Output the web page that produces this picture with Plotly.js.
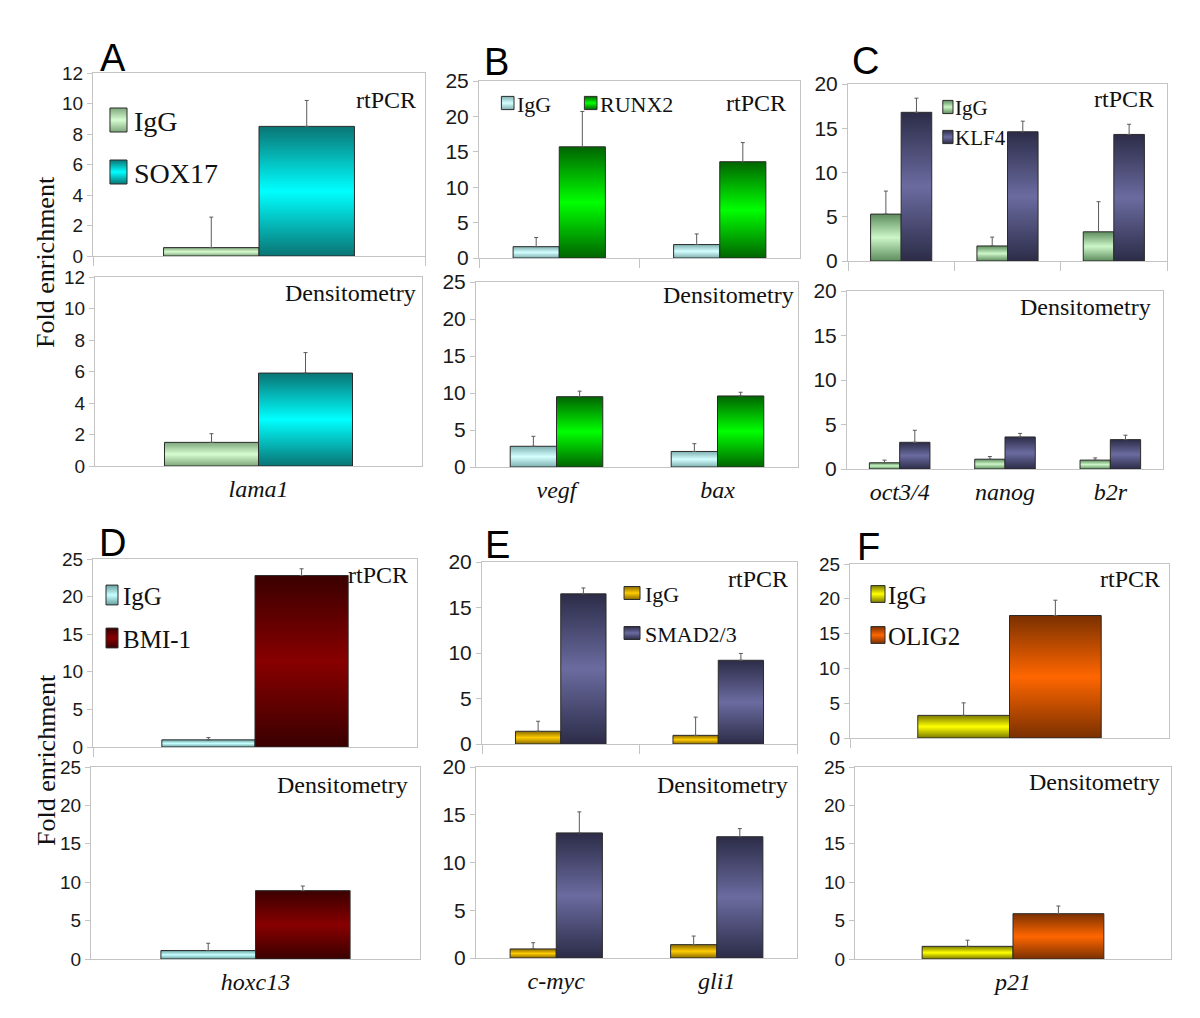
<!DOCTYPE html>
<html><head><meta charset="utf-8">
<script src="https://cdn.plot.ly/plotly-3.0.1.min.js"></script>
<style>html,body{margin:0;padding:0;background:#fff;}#chart{width:1200px;height:1018px;}</style>
</head><body><div id="chart"></div>
<script>
// ---------------- DATA ----------------
const catsA = ['lama1'];
const rtA_IgG = [0.55],  rtA_IgG_err = [2.0];
const rtA_SOX17 = [8.5], rtA_SOX17_err = [1.7];
const denA_IgG = [1.5],  denA_IgG_err = [0.55];
const denA_SOX17 = [5.9], denA_SOX17_err = [1.3];

const catsB = ['vegf', 'bax'];
const rtB_IgG = [1.6, 1.9],    rtB_IgG_err = [1.3, 1.5];
const rtB_RUNX2 = [15.7, 13.6], rtB_RUNX2_err = [5.0, 2.7];
const denB_IgG = [2.8, 2.1],   denB_IgG_err = [1.35, 1.05];
const denB_RUNX2 = [9.5, 9.6], denB_RUNX2_err = [0.75, 0.5];

const catsC = ['oct3/4', 'nanog', 'b2r'];
const rtC_IgG = [5.3, 1.7, 3.3],    rtC_IgG_err = [2.6, 1.0, 3.4];
const rtC_KLF4 = [16.8, 14.6, 14.3], rtC_KLF4_err = [1.6, 1.2, 1.15];
const denC_IgG = [0.7, 1.1, 1.0],   denC_IgG_err = [0.3, 0.3, 0.25];
const denC_KLF4 = [3.0, 3.6, 3.3],  denC_KLF4_err = [1.35, 0.4, 0.5];

const catsD = ['hoxc13'];
const rtD_IgG = [0.95],  rtD_IgG_err = [0.3];
const rtD_BMI1 = [22.8], rtD_BMI1_err = [0.9];
const denD_IgG = [1.1],  denD_IgG_err = [0.95];
const denD_BMI1 = [8.9], denD_BMI1_err = [0.6];

const catsE = ['c-myc', 'gli1'];
const rtE_IgG = [1.4, 0.95],    rtE_IgG_err = [1.1, 2.0];
const rtE_SMAD = [16.5, 9.2],   rtE_SMAD_err = [0.65, 0.75];
const denE_IgG = [0.95, 1.4],   denE_IgG_err = [0.65, 0.9];
const denE_SMAD = [13.1, 12.7], denE_SMAD_err = [2.2, 0.85];

const catsF = ['p21'];
const rtF_IgG = [3.25],   rtF_IgG_err = [1.8];
const rtF_OLIG2 = [17.6], rtF_OLIG2_err = [2.2];
const denF_IgG = [1.65],  denF_IgG_err = [0.8];
const denF_OLIG2 = [5.9], denF_OLIG2_err = [1.0];

// ---------------- LAYOUT HELPERS ----------------
const W = 1200, H = 1018;
const X = p => p / W;
const Y = p => 1 - p / H;
const NARROW = {family: 'Liberation Sans Narrow, Arial Narrow, Liberation Sans, Arial', size: 19, color: '#1a1a1a'};
const WIDE = {family: 'Liberation Sans, Arial', size: 21, color: '#1a1a1a'};
const SERIF = 'Liberation Serif, Times New Roman, serif';

// legend entries: [text left x, text center y] per series
const panels = [
  {letter: 'A', cats: catsA, names: ['IgG', 'SOX17'],
   rt: [[rtA_IgG, rtA_IgG_err], [rtA_SOX17, rtA_SOX17_err]],
   den: [[denA_IgG, denA_IgG_err], [denA_SOX17, denA_SOX17_err]],
   range: [0, 12], dtick: 2, tickfont: NARROW,
   top: [93, 425, 73, 256], bot: [95, 422, 277, 466],
   colors: [['#7fa67c', '#d6fcd0'], ['#0a7474', '#00ffff']],
   leg: {fs: 28, pos: [[134, 120], [134, 172]], scale: [1.42, 2.0], sgap: 7},
   letterPos: [98, 58], rtPos: [418, 100], denPos: [418, 293]},
  {letter: 'B', cats: catsB, names: ['IgG', 'RUNX2'],
   rt: [[rtB_IgG, rtB_IgG_err], [rtB_RUNX2, rtB_RUNX2_err]],
   den: [[denB_IgG, denB_IgG_err], [denB_RUNX2, denB_RUNX2_err]],
   range: [0, 25], dtick: 5, tickfont: WIDE,
   top: [479, 800, 81, 258], bot: [476, 798, 282, 467],
   colors: [['#7fb0b0', '#d4ffff'], ['#006400', '#00ff00']],
   leg: {fs: 22, pos: [[517, 103], [600, 103]], scale: [1.05, 1.1], sgap: 3},
   letterPos: [482, 62], rtPos: [788, 103], denPos: [796, 295]},
  {letter: 'C', cats: catsC, names: ['IgG', 'KLF4'],
   rt: [[rtC_IgG, rtC_IgG_err], [rtC_KLF4, rtC_KLF4_err]],
   den: [[denC_IgG, denC_IgG_err], [denC_KLF4, denC_KLF4_err]],
   range: [0, 20], dtick: 5, tickfont: WIDE,
   top: [848, 1167, 84, 261], bot: [847, 1163, 291, 469],
   colors: [['#5d8c5d', '#ccf6c8'], ['#2c2c48', '#6b6ba0']],
   leg: {fs: 21, pos: [[955, 107], [955, 137]], scale: [0.85, 1.1], sgap: 2},
   letterPos: [850, 61], rtPos: [1156, 99], denPos: [1153, 307]},
  {letter: 'D', cats: catsD, names: ['IgG', 'BMI-1'],
   rt: [[rtD_IgG, rtD_IgG_err], [rtD_BMI1, rtD_BMI1_err]],
   den: [[denD_IgG, denD_IgG_err], [denD_BMI1, denD_BMI1_err]],
   range: [0, 25], dtick: 5, tickfont: NARROW,
   top: [93, 417, 559, 747], bot: [91, 420, 767, 959],
   colors: [['#6aa0a0', '#c6ffff'], ['#3a0000', '#880000']],
   leg: {fs: 25, pos: [[123, 595], [123, 638]], scale: [1.0, 1.65], sgap: 5},
   letterPos: [97, 543], rtPos: [410, 575], denPos: [410, 785]},
  {letter: 'E', cats: catsE, names: ['IgG', 'SMAD2/3'],
   rt: [[rtE_IgG, rtE_IgG_err], [rtE_SMAD, rtE_SMAD_err]],
   den: [[denE_IgG, denE_IgG_err], [denE_SMAD, denE_SMAD_err]],
   range: [0, 20], dtick: 5, tickfont: WIDE,
   top: [482, 797, 562, 744], bot: [476, 797, 767, 958],
   colors: [['#8a6a00', '#ffcc00'], ['#2c2c48', '#6b6ba0']],
   leg: {fs: 22, pos: [[645, 593], [645, 633]], scale: [1.33, 1.08], sgap: 5},
   letterPos: [483, 545], rtPos: [790, 579], denPos: [790, 785]},
  {letter: 'F', cats: catsF, names: ['IgG', 'OLIG2'],
   rt: [[rtF_IgG, rtF_IgG_err], [rtF_OLIG2, rtF_OLIG2_err]],
   den: [[denF_IgG, denF_IgG_err], [denF_OLIG2, denF_OLIG2_err]],
   range: [0, 25], dtick: 5, tickfont: NARROW,
   top: [850, 1169, 564, 738], bot: [855, 1171, 767, 959],
   colors: [['#7a7a00', '#ffff00'], ['#7a3000', '#ff6600']],
   leg: {fs: 25, pos: [[888, 594], [888, 635]], scale: [1.17, 1.4], sgap: 3},
   letterPos: [855, 547], rtPos: [1162, 579], denPos: [1162, 782]}
];

const traces = [];
const gradInfo = [];
const legendTrace = {};   // legend id -> {idx, scale, gap}
const layout = {
  width: W, height: H,
  margin: {l: 0, r: 0, t: 0, b: 0},
  paper_bgcolor: '#ffffff', plot_bgcolor: '#ffffff',
  barmode: 'group', bargap: 0.425, bargroupgap: 0,
  showlegend: true,
  font: {family: 'Liberation Sans, Arial', color: '#111'},
  annotations: []
};
const suf = n => (n === 1 ? '' : String(n));
const FRAME = '#c4c4c4';
let legCount = 0;

panels.forEach((p, pi) => {
  [['rt', 2 * pi + 1, p.top], ['den', 2 * pi + 2, p.bot]].forEach(([key, idx, box]) => {
    const s = suf(idx);
    const isTop = key === 'rt';
    p[key].forEach((ser, si) => {
      const vals = ser[0], errs = ser[1];
      const tr = {
        type: 'bar', x: p.cats, y: vals, name: p.names[si],
        xaxis: 'x' + s, yaxis: 'y' + s,
        marker: {color: p.colors[si][1], line: {color: '#2b2b2b', width: 1}},
        error_y: {type: 'data', symmetric: false, array: errs, arrayminus: vals.map(() => 0),
                  color: '#5a5a5a', thickness: 1, width: 2},
        showlegend: isTop,
        hoverinfo: 'skip'
      };
      if (isTop) {
        legCount += 1;
        const lk = legCount === 1 ? 'legend' : 'legend' + legCount;
        tr.legend = lk;
        const L = p.leg, hgt = 1.3 * L.fs + 3;
        layout[lk] = {
          xanchor: 'left', yanchor: 'top',
          x: X(L.pos[si][0] - 40), y: Y(L.pos[si][1] - 5 - hgt / 2),
          orientation: 'v',
          font: {family: SERIF, size: L.fs, color: '#111'},
          bgcolor: 'rgba(0,0,0,0)', borderwidth: 0, itemwidth: 30
        };
        legendTrace[lk] = {idx: traces.length, scale: L.scale, gap: L.sgap};
      } else {
        tr.legend = 'legend';
      }
      traces.push(tr);
      gradInfo.push(p.colors[si]);
    });
    layout['xaxis' + s] = {
      domain: [X(box[0]), X(box[1])], anchor: 'y' + s, type: 'category',
      showline: true, mirror: true, linecolor: FRAME, linewidth: 1,
      showgrid: false, zeroline: false, fixedrange: true,
      showticklabels: !isTop,
      ticks: isTop ? 'outside' : '', tickson: 'boundaries', ticklen: 9, tickcolor: FRAME,
      tickfont: {family: SERIF, size: 24, style: 'italic', color: '#111'},
      ticklabelstandoff: 1
    };
    layout['yaxis' + s] = {
      domain: [Y(box[3]), Y(box[2])], anchor: 'x' + s,
      range: p.range, dtick: p.dtick, tick0: 0,
      showline: true, mirror: true, linecolor: FRAME, linewidth: 1,
      showgrid: false, zeroline: false, fixedrange: true,
      ticks: 'outside', ticklen: 5, tickcolor: FRAME,
      tickfont: p.tickfont
    };
  });

  layout.annotations.push(
    {xref: 'paper', yref: 'paper', x: X(p.letterPos[0]), y: Y(p.letterPos[1]), xanchor: 'left', yanchor: 'middle',
     text: p.letter, showarrow: false, font: {family: 'Liberation Sans, Arial', size: 38, color: '#000'}},
    {xref: 'paper', yref: 'paper', x: X(p.rtPos[0]), y: Y(p.rtPos[1]), xanchor: 'right', yanchor: 'middle',
     text: 'rtPCR', showarrow: false, font: {family: SERIF, size: 24, color: '#111'}},
    {xref: 'paper', yref: 'paper', x: X(p.denPos[0]), y: Y(p.denPos[1]), xanchor: 'right', yanchor: 'middle',
     text: 'Densitometry', showarrow: false, font: {family: SERIF, size: 24, color: '#111'}}
  );
});
[262, 760].forEach(cy => layout.annotations.push({
  xref: 'paper', yref: 'paper', x: X(46), y: Y(cy), xanchor: 'center', yanchor: 'middle',
  text: 'Fold enrichment', textangle: -90, showarrow: false,
  font: {family: SERIF, size: 26, color: '#111'}
}));

const NS = 'http://www.w3.org/2000/svg';
function ensureGradients(gd) {
  const svg = gd.querySelector('.main-svg');
  if (!svg) return;
  let defs = svg.querySelector('defs');
  if (!defs) { defs = document.createElementNS(NS, 'defs'); svg.insertBefore(defs, svg.firstChild); }
  gradInfo.forEach((c, i) => {
    if (document.getElementById('bargrad' + i)) return;
    const g = document.createElementNS(NS, 'linearGradient');
    g.setAttribute('id', 'bargrad' + i);
    g.setAttribute('x1', '0'); g.setAttribute('y1', '0'); g.setAttribute('x2', '0'); g.setAttribute('y2', '1');
    [[0, c[0]], [0.5, c[1]], [1, c[0]]].forEach(([o, col]) => {
      const st = document.createElementNS(NS, 'stop');
      st.setAttribute('offset', o); st.setAttribute('stop-color', col);
      g.appendChild(st);
    });
    defs.appendChild(g);
  });
}
function styleAll(gd) {
  ensureGradients(gd);
  gd.querySelectorAll('g.trace.bars').forEach(el => {
    const cd = el.__data__;
    if (!cd || !cd[0] || !cd[0].trace) return;
    const idx = cd[0].trace.index;
    el.querySelectorAll('g.point path').forEach(pth => { pth.style.fill = 'url(#bargrad' + idx + ')'; });
  });
  gd.querySelectorAll('.infolayer g').forEach(g => {
    const cls = Array.from(g.classList).find(c => legendTrace[c] !== undefined);
    if (!cls) return;
    const info = legendTrace[cls];
    const sc = info.scale;
    let paths = Array.from(g.querySelectorAll('.legendpoints path.legendbar'));
    if (!paths.length) paths = Array.from(g.querySelectorAll('.legendpoints path'));
    paths.forEach(pth => {
      pth.style.fill = 'url(#bargrad' + info.idx + ')';
      pth.style.vectorEffect = 'non-scaling-stroke';
      if (!pth.hasAttribute('data-base')) pth.setAttribute('data-base', pth.getAttribute('transform') || '');
      const base = pth.getAttribute('data-base');
      const bb = pth.getBBox();
      const cx = bb.x + bb.width / 2, cy = bb.y + bb.height / 2;
      // swatch (12px wide, centred 20px from item start) shifted so its right edge sits `gap` px before the text (at 40px)
      const dx = 20 - info.gap - 6 * sc[0];
      pth.setAttribute('transform', base + ' translate(' + (cx + dx) + ',' + cy + ') scale(' + sc[0] + ',' + sc[1] + ') translate(' + (-cx) + ',' + (-cy) + ')');
    });
  });
}

Plotly.newPlot('chart', traces, layout, {staticPlot: true, displayModeBar: false}).then(gd => {
  styleAll(gd);
  gd.on('plotly_afterplot', () => styleAll(gd));
  setTimeout(() => styleAll(gd), 50);
  setTimeout(() => styleAll(gd), 300);
});
</script>
</body></html>
